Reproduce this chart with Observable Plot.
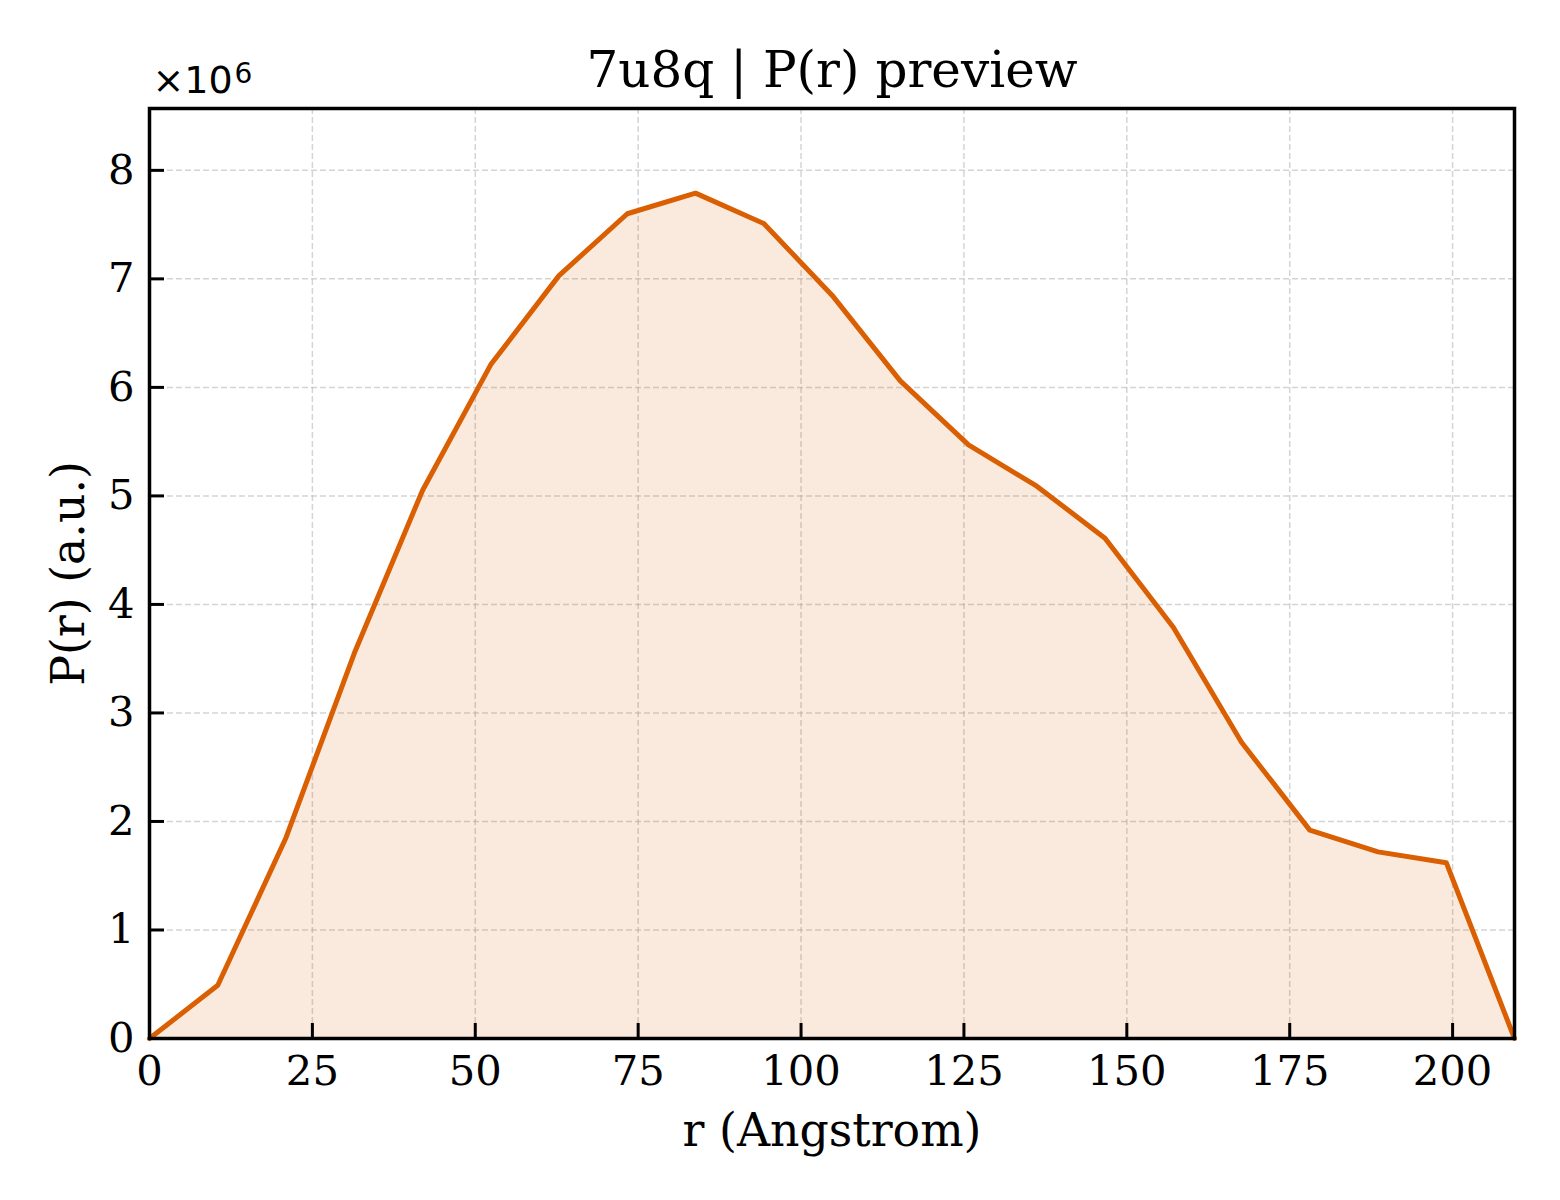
<!DOCTYPE html>
<html><head><meta charset="utf-8">
<script src="https://cdn.jsdelivr.net/npm/d3@7"></script>
<script src="https://cdn.jsdelivr.net/npm/@observablehq/plot@0.6"></script>
<style>body{margin:0;background:#fff}</style>
</head><body><div id="chart"></div>
<script>
const rValues = [0, 10.48, 20.95, 31.43, 41.9, 52.38, 62.85, 73.33, 83.8, 94.28, 104.75, 115.23, 125.7, 136.18, 146.65, 157.13, 167.6, 178.08, 188.55, 199.03, 209.5];
const prValues = [0, 0.49e6, 1.85e6, 3.55e6, 5.05e6, 6.21e6, 7.03e6, 7.60e6, 7.79e6, 7.51e6, 6.85e6, 6.06e6, 5.47e6, 5.09e6, 4.61e6, 3.79e6, 2.73e6, 1.92e6, 1.72e6, 1.62e6, 0];
const xTicks = [0, 25, 50, 75, 100, 125, 150, 175, 200];
const yTicks = [0, 1e6, 2e6, 3e6, 4e6, 5e6, 6e6, 7e6, 8e6];
const titleText = "7u8q | P(r) preview";
const xLabel = "r (Angstrom)";
const yLabel = "P(r) (a.u.)";
const scaleBase = "×10";
const scaleExp = "6";

const data = rValues.map((x, i) => ({r: x, p: prValues[i]}));
const color = "#d95f02";

const chart = Plot.plot({
  width: 1560, height: 1200,
  marginLeft: 149, marginRight: 46, marginTop: 108, marginBottom: 162,
  style: {fontFamily: "'DejaVu Serif', serif", fontSize: "41.7px", background: "#fff", color: "#000"},
  x: {domain: [0, 209.5]},
  y: {domain: [0, 8.57e6]},
  marks: [
    Plot.gridX(xTicks, {stroke: "#b0b0b0", strokeOpacity: 0.55, strokeDasharray: "6,3", strokeWidth: 1.5}),
    Plot.gridY(yTicks, {stroke: "#b0b0b0", strokeOpacity: 0.55, strokeDasharray: "6,3", strokeWidth: 1.5}),
    Plot.areaY(data, {x: "r", y: "p", fill: color, fillOpacity: 0.13}),
    Plot.lineY(data, {x: "r", y: "p", stroke: color, strokeWidth: 5, strokeLinejoin: "round"}),
    Plot.axisX(xTicks, {tickSize: -15, tickPadding: 32, strokeWidth: 3, stroke: "#000", label: null, tickFormat: d => String(d), fill: "#000"}),
    Plot.axisY(yTicks, {tickSize: -15, tickPadding: 30, strokeWidth: 3, stroke: "#000", label: null, tickFormat: d => String(d / 1e6), fill: "#000"}),
    Plot.frame({stroke: "#000", strokeWidth: 3.5}),
    Plot.text([titleText], {frameAnchor: "top", lineAnchor: "bottom", dy: -22, fontSize: 50, fill: "#000", text: d => d}),
    Plot.text([xLabel], {frameAnchor: "bottom", lineAnchor: "bottom", dy: 107, fontSize: 45.8, fill: "#000", text: d => d}),
    Plot.text([yLabel], {frameAnchor: "left", lineAnchor: "bottom", textAnchor: "middle", dx: -66, rotate: -90, fontSize: 45.8, fill: "#000", text: d => d}),
    Plot.text([scaleBase], {frameAnchor: "top-left", lineAnchor: "bottom", textAnchor: "start", dx: 3, dy: -16, fontSize: 38, fontFamily: "'DejaVu Sans', sans-serif", fill: "#000", text: d => d}),
    Plot.text([scaleExp], {frameAnchor: "top-left", lineAnchor: "bottom", textAnchor: "start", dx: 85, dy: -26, fontSize: 28, fontFamily: "'DejaVu Sans', sans-serif", fill: "#000", text: d => d})
  ]
});
document.getElementById("chart").appendChild(chart);
</script>
</body></html>
